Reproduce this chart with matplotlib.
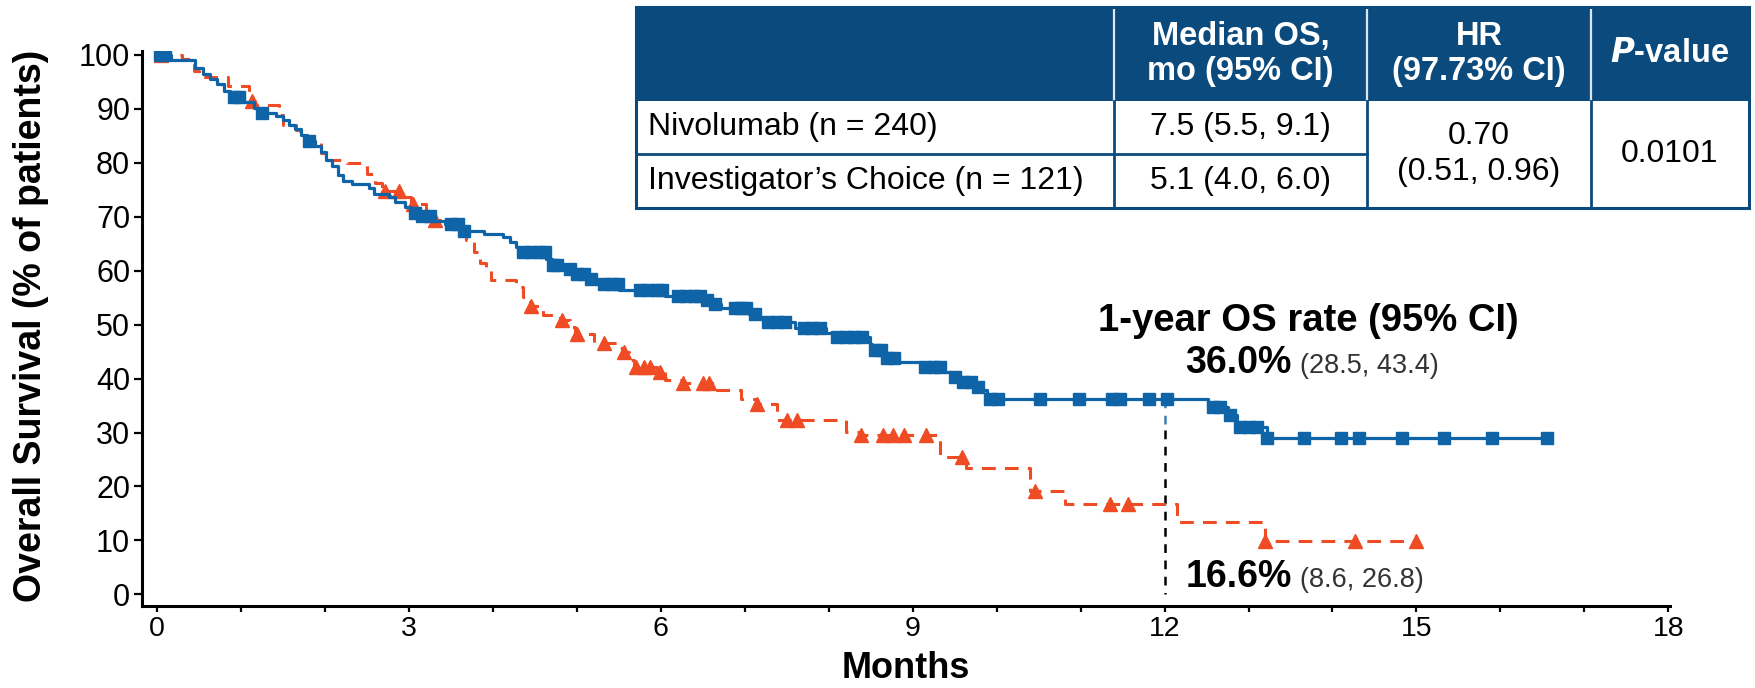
import numpy as np
import matplotlib
matplotlib.use("Agg")
import matplotlib.pyplot as plt
from matplotlib.patches import Rectangle

plt.rcParams['font.family'] = ['Liberation Sans', 'DejaVu Sans']

# ---------------- data ----------------
nivo_times = [0, 0.17, 0.45, 0.55, 0.63, 0.72, 0.80, 0.87, 1.03, 1.15, 1.21, 1.42, 1.50, 1.57,
              1.64, 1.72, 1.79, 1.88, 1.95, 2.01, 2.08, 2.15, 2.22, 2.32, 2.52, 2.58, 2.76, 2.84,
              2.95, 3.03, 3.15, 3.27, 3.43, 3.65, 3.90, 4.12, 4.20, 4.28, 4.31, 4.63, 4.70, 4.80,
              4.97, 5.10, 5.24, 5.50, 6.05, 6.48, 6.62, 6.72, 7.05, 7.18, 7.25, 7.60, 7.97, 8.06,
              8.49, 8.52, 8.66, 8.84, 9.10, 9.37, 9.48, 9.60, 9.72, 9.80, 9.88, 12.52, 12.75,
              12.86, 13.22]
nivo_surv = [100, 99.1, 97.6, 96.5, 95.6, 94.7, 93.4, 92.3, 91.2, 90.2, 89.2, 88.6, 87.9, 87.0,
             86.3, 85.2, 84.0, 83.2, 82.0, 80.6, 79.5, 77.8, 76.6, 76.0, 75.3, 74.3, 73.7, 72.8,
             71.9, 70.7, 70.1, 69.3, 68.6, 67.4, 66.9, 66.2, 65.4, 64.4, 63.4, 62.2, 61.1, 60.4,
             59.3, 58.5, 57.5, 56.5, 55.4, 54.6, 53.8, 53.0, 52.0, 51.2, 50.5, 49.4, 48.4, 47.7,
             46.5, 45.3, 43.9, 43.1, 42.2, 41.3, 40.3, 39.3, 38.5, 37.9, 36.2, 34.8, 33.3,
             31.1, 29.0]
nivo_end = 16.6
nivo_censor = [0.03, 0.10, 0.92, 0.98, 1.25, 1.81, 3.07, 3.15, 3.25, 3.50, 3.58, 3.66, 4.36, 4.45,
               4.55, 4.62, 4.72, 4.76, 4.92, 5.00, 5.08, 5.17, 5.32, 5.42, 5.49, 5.75, 5.85, 5.95,
               6.02, 6.20, 6.30, 6.40, 6.47, 6.55, 6.65, 6.88, 6.95, 7.02, 7.12, 7.28, 7.38, 7.48,
               7.70, 7.80, 7.90, 8.10, 8.20, 8.30, 8.40, 8.55, 8.62, 8.70, 8.78, 9.15, 9.25, 9.33,
               9.50, 9.60, 9.70, 9.78, 9.92, 10.02, 10.52, 10.98, 11.37, 11.47, 11.81, 12.03,
               12.58, 12.66, 12.78, 12.90, 13.00, 13.10, 13.22, 13.66, 14.10, 14.31, 14.83,
               15.33, 15.90, 16.55]

ic_times = [0, 0.30, 0.44, 0.50, 0.84, 1.10, 1.17, 1.45, 1.50, 1.66, 1.70, 1.84, 1.95, 2.04, 2.26,
            2.50, 2.60, 2.68, 2.95, 3.02, 3.20, 3.30, 3.43, 3.62, 3.68, 3.78, 3.85, 3.92, 3.98,
            4.27, 4.36, 4.44, 4.60, 4.80, 4.92, 4.98, 5.20, 5.50, 5.56, 5.62, 5.68, 5.95, 6.05,
            6.25, 6.65, 6.95, 7.15, 7.38, 8.20, 8.36, 9.33, 9.63, 10.40, 10.82, 12.15, 13.20]
ic_surv = [100, 99.2, 97.0, 96.0, 94.3, 91.5, 90.7, 88.8, 87.0, 86.1, 84.9, 83.6, 81.8, 80.5, 79.9,
           78.0, 76.3, 74.7, 73.7, 72.4, 70.7, 69.4, 68.8, 67.5, 65.7, 63.5, 61.4, 60.1, 58.2,
           57.0, 55.2, 53.5, 51.8, 50.9, 49.6, 48.3, 46.6, 45.6, 45.0, 43.5, 42.2, 41.3, 39.7,
           39.1, 37.9, 36.3, 35.2, 32.4, 30.1, 29.5, 25.4, 23.4, 19.2, 16.8, 13.4, 9.8]
ic_end = 15.0
ic_censor = [0.05, 1.13, 2.72, 2.88, 3.05, 3.31, 4.46, 4.82, 5.00, 5.32, 5.56, 5.70, 5.80, 5.87,
             5.99, 6.27, 6.50, 6.58, 7.15, 7.50, 7.62, 8.39, 8.65, 8.77, 8.90, 9.16, 9.59,
             10.46, 11.35, 11.57, 13.20, 14.27, 14.99]

x_ticks = [0, 3, 6, 9, 12, 15, 18]
y_ticks = [0, 10, 20, 30, 40, 50, 60, 70, 80, 90, 100]

landmark_month = 12
nivo_1yr_line = 36.2
nivo_1yr_label = "36.0%"
nivo_1yr_ci = "(28.5, 43.4)"
ic_1yr_label = "16.6%"
ic_1yr_ci = "(8.6, 26.8)"

table_header = ["", "Median OS,\nmo (95% CI)", "HR\n(97.73% CI)", r"$\bfit{P}$-value"]
table_arms = ["Nivolumab (n = 240)", "Investigator\u2019s Choice (n = 121)"]
table_median = ["7.5 (5.5, 9.1)", "5.1 (4.0, 6.0)"]
table_hr = "0.70\n(0.51, 0.96)"
table_p = "0.0101"

# ---------------- styles ----------------
BLUE = '#0f64a8'
RED = '#ef4b24'
NAVY = '#0b4a7d'

W, H = 1756, 688
fig = plt.figure(figsize=(W / 100, H / 100), dpi=100)
ax = fig.add_axes([142 / W, 1 - 605.7 / H, (1670 - 142) / W, (605.7 - 51) / H])


def step_value(times, surv, t):
    idx = np.searchsorted(np.asarray(times), np.asarray(t), side='right') - 1
    return np.asarray(surv)[idx]


# Nivolumab
ax.step(list(nivo_times) + [nivo_end], list(nivo_surv) + [nivo_surv[-1]], where='post',
        color=BLUE, lw=2.3, zorder=4)
ax.plot(nivo_censor, step_value(nivo_times, nivo_surv, nivo_censor), ls='none', marker='s',
        ms=9, color=BLUE, zorder=5)

# Investigator's choice
ax.step(list(ic_times) + [ic_end], list(ic_surv) + [ic_surv[-1]], where='post',
        color=RED, lw=2.2, ls=(0, (4.5, 3)), zorder=3)
ax.plot(ic_censor, step_value(ic_times, ic_surv, ic_censor), ls='none', marker='^',
        ms=10, color=RED, zorder=3.5)

# landmark line at 12 months
ax.plot([landmark_month, landmark_month], [nivo_1yr_line, 30.5], color='#3a7fb5', lw=1.8,
        ls=(0, (3.5, 3)), zorder=2)
ax.plot([landmark_month, landmark_month], [30.5, 0], color='black', lw=1.8,
        ls=(0, (3.5, 3)), zorder=2)

ax.set_xlim(-0.179, 18.02)
ax.set_ylim(-2.11, 100.74)
ax.set_xticks(x_ticks)
ax.set_xticks(np.arange(0, 19, 1), minor=True)
ax.set_yticks(y_ticks)
ax.spines['top'].set_visible(False)
ax.spines['right'].set_visible(False)
for s in ['left', 'bottom']:
    ax.spines[s].set_linewidth(2.2)
ax.tick_params(axis='x', which='both', direction='out', length=4.5, width=1.6, labelsize=20.5, pad=3)
ax.tick_params(axis='y', which='both', direction='out', length=5.5, width=1.6, labelsize=22, pad=3)

fig.text(31 / W, 1 - 326 / H, "Overall Survival (% of patients)", rotation=90, ha='center',
         va='center', fontsize=27, fontweight='bold')
fig.text(906 / W, 1 - 668 / H, "Months", ha='center', va='center', fontsize=26, fontweight='bold')

# annotations
ax.text(13.71, 48.8, "1-year OS rate (95% CI)", ha='center', va='baseline', fontsize=27.5,
        fontweight='bold')
t1 = ax.text(12.25, 41.0, nivo_1yr_label, ha='left', va='baseline', fontsize=27, fontweight='bold')
t2 = ax.text(12.25, 1.4, ic_1yr_label, ha='left', va='baseline', fontsize=27, fontweight='bold')
fig.canvas.draw()
r = fig.canvas.get_renderer()
for t, s in [(t1, nivo_1yr_ci), (t2, ic_1yr_ci)]:
    bb = t.get_window_extent(r)
    xd = ax.transData.inverted().transform((bb.x1 + 8, 0))[0]
    ax.text(xd, t.get_position()[1], s, ha='left', va='baseline', fontsize=19.5, color='#333333')

# ---------------- table ----------------
tax = fig.add_axes([0, 0, 1, 1])
tax.set_xlim(0, W)
tax.set_ylim(H, 0)
tax.axis('off')
tax.patch.set_alpha(0)

cols = [636, 1114, 1367, 1591, 1749]
rows = [7, 101, 154, 208]
tax.add_patch(Rectangle((cols[0], rows[0]), cols[-1] - cols[0], rows[1] - rows[0],
                        facecolor=NAVY, edgecolor='none', zorder=1))
tax.add_patch(Rectangle((cols[0], rows[0]), cols[-1] - cols[0], rows[-1] - rows[0],
                        facecolor='none', edgecolor=NAVY, lw=2.2, zorder=3))
for c in cols[1:-1]:
    tax.plot([c, c], [rows[0] + 2, rows[1]], color='#dde6ee', lw=1.6, zorder=2)
    tax.plot([c, c], [rows[1], rows[-1]], color=NAVY, lw=2.0, zorder=2)
tax.plot([cols[0], cols[2]], [rows[2], rows[2]], color=NAVY, lw=2.0, zorder=2)

hy = (rows[0] + rows[1]) / 2
for i, txt in enumerate(table_header[1:], start=1):
    tax.text((cols[i] + cols[i + 1]) / 2, hy, txt, ha='center', va='center', color='white',
             fontsize=23.5, fontweight='bold', linespacing=1.2)
for j in range(2):
    cy = (rows[j + 1] + rows[j + 2]) / 2
    tax.text(648, cy, table_arms[j], ha='left', va='center', fontsize=23)
    tax.text((cols[1] + cols[2]) / 2, cy, table_median[j], ha='center', va='center', fontsize=23)
tax.text((cols[2] + cols[3]) / 2, rows[2], table_hr, ha='center', va='center', fontsize=23,
         linespacing=1.3)
tax.text((cols[3] + cols[4]) / 2, rows[2], table_p, ha='center', va='center', fontsize=23)

fig.savefig("out.png", dpi=100)
